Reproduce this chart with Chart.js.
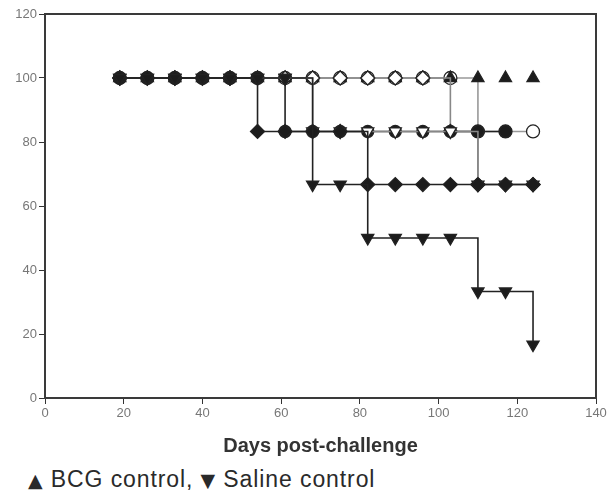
<!DOCTYPE html>
<html lang="en">
<head>
  <meta charset="UTF-8">
  <title>Survival after challenge</title>
  <style>
    body { margin: 0; background: #fff; font-family: 'Liberation Sans', Arial, sans-serif; }
    #wrap { position: relative; width: 611px; height: 458px; }
    #note { font-family: 'Liberation Sans', Arial, sans-serif; font-size: 23px; line-height: 26px; color: #2a2a2a; padding-left: 28px; margin-top: 8px; white-space: nowrap; letter-spacing: 0.9px; }
    #note span { font-family: 'DejaVu Sans', sans-serif; font-size: 19px; }
  </style>
</head>
<body>
  <div id="wrap"><canvas id="grafico"></canvas></div>
  <div id="note"><span>&#9650;</span> BCG control, <span>&#9660;</span> Saline control</div>
  <script src="https://cdn.jsdelivr.net/npm/chart.js"></script>
  <script>
    // days on which survival was recorded
    const dias = [19, 26, 33, 40, 47, 54, 61, 68, 75, 82, 89, 96, 103, 110, 117, 124];

    // percent survival per group (null = no point)
    const diamanteCheio = [100, 100, 100, 100, 100, 83.3, 83.3, 83.3, 83.3, 66.7, 66.7, 66.7, 66.7, 66.7, 66.7, 66.7];
    const circuloCheio = [100, 100, 100, 100, 100, 100, 83.3, 83.3, 83.3, 83.3, 83.3, 83.3, 83.3, 83.3, 83.3, null];
    const circuloAberto = [100, 100, 100, 100, 100, 100, 100, 100, 100, 100, 100, 100, 100, 83.3, 83.3, 83.3];
    const diamanteAberto = [100, 100, 100, 100, 100, 100, 100, 100, 100, 100, 100, 100, 83.3, 66.7, 66.7, 66.7];
    const trianguloAberto = [100, 100, 100, 100, 100, 100, 100, 83.3, 83.3, 83.3, 83.3, 83.3, 83.3, 66.7, 66.7, 66.7];
    const bcgControle = [100, 100, 100, 100, 100, 100, 100, 100, 100, 100, 100, 100, 100, 100, 100, 100];
    const salinaControle = [100, 100, 100, 100, 100, 100, 100, 66.7, 66.7, 50, 50, 50, 50, 33.3, 33.3, 16.7];

    const yTicks = [0, 20, 40, 60, 80, 100, 120];
    const xTicks = [0, 20, 40, 60, 80, 100, 120, 140];

    function pontos(valores) {
      return dias.map((d, i) => ({ x: d, y: valores[i] }));
    }

    function serie(valores, estilo, cheio, corLinha, extra) {
      return Object.assign({
        data: pontos(valores),
        stepped: true,
        spanGaps: false,
        borderColor: corLinha,
        borderWidth: 1.6,
        pointStyle: estilo,
        pointRadius: 7,
        pointBorderWidth: 1.3,
        pointBorderColor: '#222',
        pointBackgroundColor: cheio ? '#1c1c1c' : '#ffffff'
      }, extra || {});
    }

    const moldura = {
      id: 'moldura',
      afterDatasetsDraw(chart) {
        const a = chart.chartArea, ctx = chart.ctx;
        ctx.save();
        ctx.strokeStyle = '#3a3a3a';
        ctx.lineWidth = 2;
        ctx.strokeRect(a.left, a.top, a.right - a.left, a.bottom - a.top);
        ctx.restore();
      }
    };

    // first dataset is drawn on top
    new Chart(document.getElementById('grafico'), {
      type: 'line',
      data: {
        datasets: [
          serie(salinaControle, 'triangle', true, '#222', { rotation: 180 }),
          serie(diamanteCheio, 'rectRot', true, '#222'),
          serie(trianguloAberto, 'triangle', false, '#888', { rotation: 180 }),
          serie(circuloCheio, 'circle', true, '#222', { pointRadius: 6 }),
          serie(diamanteAberto, 'rectRot', false, '#888'),
          serie(bcgControle, 'triangle', true, '#222', { showLine: false }),
          serie(circuloAberto, 'circle', false, '#999', { pointRadius: 6.5 })
        ]
      },
      options: {
        responsive: true,
        maintainAspectRatio: false,
        animation: false,
        layout: { padding: { left: 0, right: 15, top: 14, bottom: 0 } },
        plugins: { legend: { display: false }, tooltip: { enabled: false } },
        scales: {
          x: {
            type: 'linear',
            min: 0, max: 140,
            afterBuildTicks: s => { s.ticks = xTicks.map(v => ({ value: v })); },
            afterFit: s => { s.height = 60; },
            grid: { drawOnChartArea: false, tickLength: 6, color: '#333' },
            border: { color: '#333', width: 2 },
            ticks: { color: '#777', font: { size: 13, family: 'Liberation Sans' }, padding: 2 },
            title: { display: true, text: 'Days post-challenge', color: '#333', font: { size: 20, weight: 'bold', family: 'Liberation Sans' }, padding: { top: 8, bottom: 0 } }
          },
          y: {
            min: 0, max: 120,
            afterBuildTicks: s => { s.ticks = yTicks.map(v => ({ value: v })); },
            afterFit: s => { s.width = 45; },
            grid: { drawOnChartArea: false, tickLength: 6, color: '#333' },
            border: { color: '#333', width: 2 },
            ticks: { color: '#777', font: { size: 13, family: 'Liberation Sans' }, padding: 2 }
          }
        }
      },
      plugins: [moldura]
    });
  </script>
</body>
</html>
